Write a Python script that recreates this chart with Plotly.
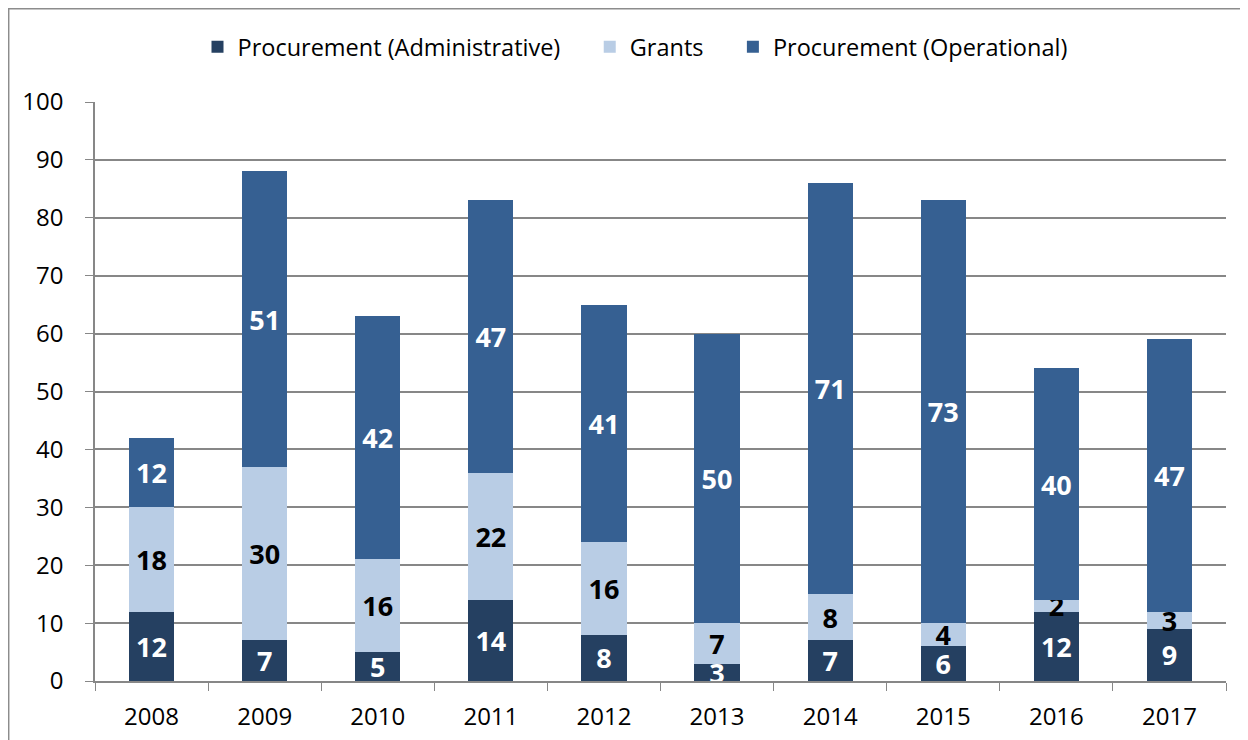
import plotly.graph_objects as go

# ── data ──────────────────────────────────────────────
years = ["2008", "2009", "2010", "2011", "2012", "2013", "2014", "2015", "2016", "2017"]
admin = [12, 7, 5, 14, 8, 3, 7, 6, 12, 9]
grants = [18, 30, 16, 22, 16, 7, 8, 4, 2, 3]
operational = [12, 51, 42, 47, 41, 50, 71, 73, 40, 47]

# ── style ─────────────────────────────────────────────
NAVY = "#254061"
LIGHT = "#B9CDE5"
BLUE = "#366092"
GRID = "#878787"
FONT = "Open Sans, Liberation Sans, sans-serif"

# the page body adds an 8px margin, so the figure is sized to fit inside it
OFF = 8
W, H = 1248 - OFF, 740 - OFF
# plot area wanted on the page: x 95..1226, y 102..681
ML, MR, MT, MB = 95 - OFF, W - (1226 - OFF), 102 - OFF, H - (681 - OFF)


def page_x(px):
    return (px - OFF - ML) / (W - ML - MR)


def page_y(py):
    return (H - MB - (py - OFF)) / (H - MT - MB)


PAD = "\u00a0" * 4  # widen the gap between legend entries
series = [
    ("Procurement (Administrative)" + PAD, admin, NAVY, "white"),
    ("Grants" + PAD, grants, LIGHT, "black"),
    ("Procurement (Operational)", operational, BLUE, "white"),
]

fig = go.Figure()
for name, vals, color, txt in series:
    fig.add_trace(
        go.Bar(
            x=years,
            y=vals,
            name=name,
            marker=dict(color=color, line=dict(width=0)),
            text=vals,
            textposition="inside",
            insidetextanchor="middle",
            textangle=0,
            textfont=dict(family=FONT, size=27, color=txt, weight="bold"),
            cliponaxis=False,
        )
    )

# outer chart frame (only top and left edges visible in the crop)
fig.add_shape(
    type="path",
    xref="paper",
    yref="paper",
    path=f"M {page_x(8.7)} {page_y(760)} L {page_x(8.7)} {page_y(8.7)} "
    f"L {page_x(1270)} {page_y(8.7)}",
    line=dict(color="#8C8C8C", width=1.5),
    layer="above",
)

fig.update_layout(
    width=W,
    height=H,
    barmode="stack",
    bargap=0.6,
    paper_bgcolor="white",
    plot_bgcolor="white",
    font=dict(family=FONT, color="black"),
    margin=dict(l=ML, r=MR, t=MT, b=MB, autoexpand=False),
    uniformtext=dict(minsize=27, mode="show"),
    showlegend=True,
    legend=dict(
        orientation="h",
        traceorder="normal",
        x=page_x(635),
        xanchor="center",
        y=page_y(47),
        yanchor="middle",
        font=dict(family=FONT, size=23.5, color="black"),
        itemwidth=30,
    ),
    xaxis=dict(
        type="category",
        range=[-0.5, 9.5],
        automargin=False,
        showgrid=False,
        showline=True,
        linecolor=GRID,
        linewidth=1.5,
        ticks="outside",
        tickson="boundaries",
        ticklen=8,
        tickcolor=GRID,
        tickfont=dict(family=FONT, size=24, color="black"),
        ticklabelstandoff=13,
    ),
    yaxis=dict(
        range=[0, 100],
        dtick=10,
        automargin=False,
        showgrid=True,
        gridcolor=GRID,
        gridwidth=1.5,
        showline=True,
        linecolor=GRID,
        linewidth=1.5,
        ticks="outside",
        ticklen=8,
        tickcolor=GRID,
        tickfont=dict(family=FONT, size=24, color="black"),
        ticklabelstandoff=17,
        zeroline=False,
    ),
)

fig.write_html("out.html")
